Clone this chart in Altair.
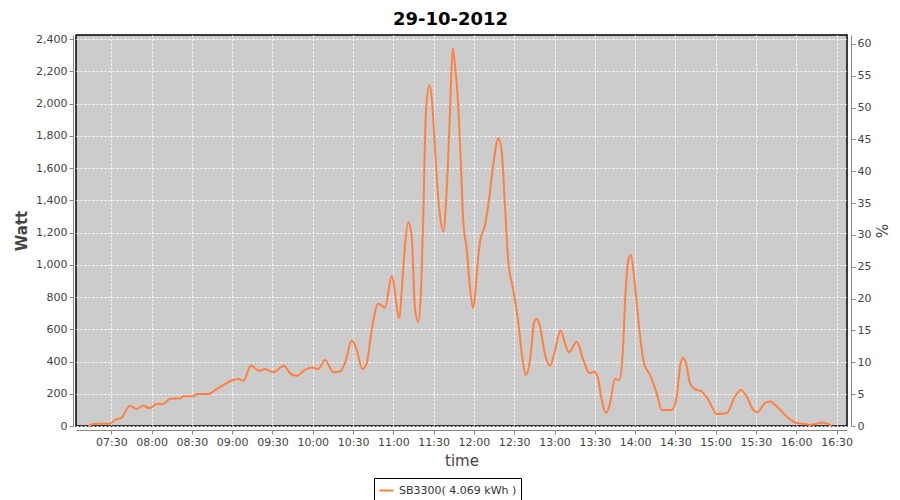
import altair as alt
import pandas as pd

# time in minutes since midnight, power in Watt
minutes = [432.9, 437.9, 448.5, 452.8, 457.7, 463.9, 468.9, 473.4, 478.8, 483.8,
           488.7, 493.7, 501.2, 504.1, 511.1, 514.0, 522.2, 528.5, 533.4, 539.6,
           544.6, 548.3, 554.0, 560.0, 564.4, 570.6, 578.6, 583.0, 588.0, 594.2,
           599.2, 604.1, 609.1, 615.3, 620.3, 624.0, 629.0, 632.7, 636.9, 640.2,
           643.9, 648.8, 653.8, 658.8, 664.5, 666.2, 668.7, 671.1, 673.6, 676.1,
           678.6, 680.4, 682.3, 684.3, 686.8, 688.6, 691.0, 692.7, 694.7, 697.2,
           699.7, 702.2, 704.2, 705.9, 708.4, 710.2, 712.1, 714.6, 717.1, 719.5,
           722.5, 724.5, 728.3, 730.7, 734.4, 738.2, 740.7, 743.2, 745.6, 749.3,
           753.1, 755.6, 758.8, 761.8, 765.0, 766.8, 769.2, 773.0, 776.7, 779.9,
           784.6, 787.8, 790.8, 796.5, 801.5, 805.9, 809.6, 812.6, 815.2, 818.4,
           821.4, 825.0, 828.3, 830.8, 833.0, 835.0, 836.8, 840.0, 843.2, 846.6,
           851.1, 856.1, 859.8, 867.3, 871.0, 873.5, 875.5, 877.9, 880.9, 884.6,
           889.6, 894.5, 900.8, 908.2, 914.4, 918.9, 923.1, 928.0, 931.0, 936.7,
           940.5, 945.5, 952.9, 960.4, 966.5, 970.2, 975.2, 979.7, 983.9, 986.4]

watts = [0, 14, 14, 38, 53, 125, 105, 125, 111, 136,
         136, 169, 171, 185, 185, 198, 198, 229, 254, 282,
         291, 280, 375, 342, 353, 334, 373, 328, 311, 348,
         363, 353, 410, 334, 338, 390, 530, 472, 353, 390,
         596, 758, 735, 931, 669, 834, 1123, 1264, 1185, 731,
         644, 813, 1309, 1950, 2115, 2033, 1723, 1495, 1309, 1206,
         1454, 1950, 2343, 2239, 1971, 1640, 1268, 1103, 855, 731,
         979, 1144, 1247, 1371, 1619, 1785, 1702, 1351, 1020, 844,
         638, 452, 317, 410, 648, 665, 617, 441, 373, 452,
         592, 514, 456, 522, 410, 328, 336, 286, 162, 80,
         142, 291, 286, 452, 844, 1030, 1061, 865, 596, 390,
         317, 204, 100, 100, 183, 369, 421, 390, 266, 229,
         214, 162, 74, 80, 183, 224, 183, 100, 86, 142,
         152, 121, 59, 18, 14, 6, 14, 22, 12, 0]

series_name = "SB3300( 4.069 kWh )"
title_text = "29-10-2012"
x_ticks = list(range(450, 991, 30))          # 07:30 ... 16:30
watt_ticks = list(range(0, 2401, 200))
pct_ticks = list(range(0, 61, 5))
pct_range = [0, 60]

df = pd.DataFrame({"minute": minutes, "watt": watts, "series": series_name})
pct_df = pd.DataFrame({"pct": pct_range})

label_expr = ("(datum.value < 600 ? '0' : '') + floor(datum.value / 60) + ':' + "
              "(datum.value % 60 == 0 ? '00' : '30')")

FONT = "DejaVu Sans"

line = alt.Chart(df).mark_line(interpolate="monotone", strokeWidth=2).encode(
    x=alt.X("minute:Q",
            scale=alt.Scale(domain=[423.7, 997.8], nice=False, zero=False),
            axis=alt.Axis(values=x_ticks, labelExpr=label_expr, title="time",
                          grid=True, offset=4, titleFontWeight="normal",
                          titlePadding=6)),
    y=alt.Y("watt:Q",
            scale=alt.Scale(domain=[0, 2425], nice=False),
            axis=alt.Axis(values=watt_ticks, format=",d", title="Watt",
                          grid=True, offset=3, titleFontWeight="bold",
                          titlePadding=6)),
    color=alt.Color("series:N",
                    scale=alt.Scale(domain=[series_name], range=["#FF8040"]),
                    legend=alt.Legend(title=None, orient="none", legendX=298, legendY=443,
                                      strokeColor="black", padding=4,
                                      symbolType="stroke", symbolStrokeWidth=2,
                                      symbolSize=200, labelFont=FONT, labelFontSize=11,
                                      labelColor="#333")),
)

right = alt.Chart(pct_df).mark_point(opacity=0).encode(
    y=alt.Y("pct:Q",
            scale=alt.Scale(domain=[0, 61.4], nice=False),
            axis=alt.Axis(orient="right", values=pct_ticks, title="%", grid=False,
                          offset=4, titleFontWeight="normal", titlePadding=2)),
)

chart = alt.layer(line, right).resolve_scale(y="independent").properties(
    width=771,
    height=391,
    autosize=alt.AutoSizeParams(type="none"),
    padding={"left": 68, "top": 27, "right": 45, "bottom": 74},
    title=alt.Title(title_text, fontSize=18, fontWeight="bold", font=FONT,
                    color="black", offset=4, anchor="middle", dx=-11),
).configure_view(
    fill="#CCCCCC", stroke="black", strokeWidth=1.5
).configure_axis(
    labelFont=FONT, labelFontSize=11, labelColor="#444",
    titleFont=FONT, titleFontSize=15, titleColor="#444",
    domainColor="#888", tickColor="#888", tickSize=4, labelPadding=2,
    gridColor="white", gridDash=[2, 2], gridWidth=1, gridOpacity=1,
)

chart.save("out.html", embed_options={"renderer": "svg", "actions": False})
